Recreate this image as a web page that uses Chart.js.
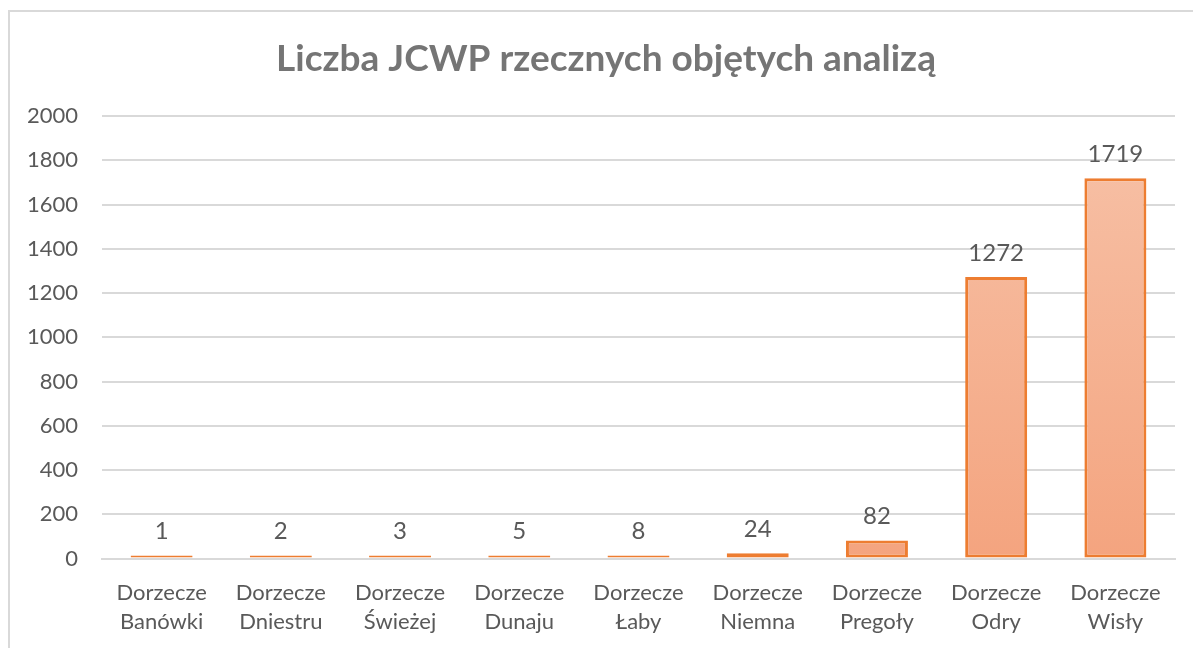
<!DOCTYPE html>
<html>
<head>
<meta charset="utf-8">
<script src="https://cdn.jsdelivr.net/npm/chart.js@4"></script>
<style>
  html, body { margin: 0; padding: 0; background: #fff; }
  body { width: 1193px; height: 648px; overflow: hidden; position: relative; }
  #frame { position: absolute; left: 8px; top: 10px; width: 1200px; height: 700px;
           border-left: 2px solid #d9d9d9; border-top: 2px solid #d9d9d9; }
  #wrap { position: absolute; left: 10px; top: 12px; width: 1183px; height: 636px; }
</style>
</head>
<body>
<div id="frame"></div>
<div id="wrap"><canvas id="chart"></canvas></div>
<script>
const categories = [
  ['Dorzecze', 'Banówki'], ['Dorzecze', 'Dniestru'], ['Dorzecze', 'Świeżej'],
  ['Dorzecze', 'Dunaju'], ['Dorzecze', 'Łaby'], ['Dorzecze', 'Niemna'],
  ['Dorzecze', 'Pregoły'], ['Dorzecze', 'Odry'], ['Dorzecze', 'Wisły']
];
const counts = [1, 2, 3, 5, 8, 24, 82, 1272, 1719];
const titleText = 'Liczba JCWP rzecznych objętych analizą';

const FONT = 'Lato, "Open Sans", sans-serif';

// value above each bar
const valueLabels = {
  id: 'valueLabels',
  afterDatasetsDraw(chart) {
    const ctx = chart.ctx;
    const meta = chart.getDatasetMeta(0);
    ctx.save();
    ctx.font = '24px ' + FONT;
    ctx.fillStyle = '#595959';
    ctx.textAlign = 'center';
    ctx.textBaseline = 'bottom';
    meta.data.forEach((bar, i) => {
      ctx.fillText(String(counts[i]), bar.x, bar.y - 12);
    });
    ctx.restore();
  }
};

// title sits a bit left of the plot centre, like the Excel original
const chartTitle = {
  id: 'chartTitle',
  afterDraw(chart) {
    const ctx = chart.ctx;
    ctx.save();
    ctx.font = 'bold 37px ' + FONT;
    ctx.fillStyle = '#757575';
    ctx.textAlign = 'center';
    ctx.textBaseline = 'middle';
    ctx.fillText(titleText, 596, 47);
    ctx.restore();
  }
};

new Chart(document.getElementById('chart'), {
  type: 'bar',
  data: {
    labels: categories,
    datasets: [{
      data: counts,
      backgroundColor: (c) => {
        const area = c.chart.chartArea;
        if (!area) return '#f5ae8d';
        const g = c.chart.ctx.createLinearGradient(0, area.top, 0, area.bottom);
        g.addColorStop(0, '#f7c2a8');
        g.addColorStop(1, '#f4a47f');
        return g;
      },
      borderColor: '#ed7d31',
      borderWidth: 3,
      borderSkipped: false,
      minBarLength: 3,
      barPercentage: 0.52,
      categoryPercentage: 1.0
    }]
  },
  options: {
    responsive: true,
    maintainAspectRatio: false,
    animation: false,
    layout: { padding: { top: 104, right: 18, bottom: 0, left: 0 } },
    plugins: {
      legend: { display: false },
      tooltip: { enabled: false },
      title: { display: false }
    },
    scales: {
      x: {
        grid: { display: false },
        border: { display: true, color: '#d9d9d9', width: 2 },
        ticks: { color: '#595959', font: { family: FONT, size: 22, lineHeight: 1.35 }, maxRotation: 0, padding: 11 }
      },
      y: {
        min: 0,
        max: 2000,
        grid: { color: '#d9d9d9', lineWidth: 2, drawTicks: false },
        border: { display: false },
        ticks: { stepSize: 200, color: '#595959', font: { family: FONT, size: 22 }, padding: 24,
                 callback: (v) => String(v) },
        afterFit: (s) => { s.width = 92; }
      }
    }
  },
  plugins: [valueLabels, chartTitle]
});
</script>
</body>
</html>
